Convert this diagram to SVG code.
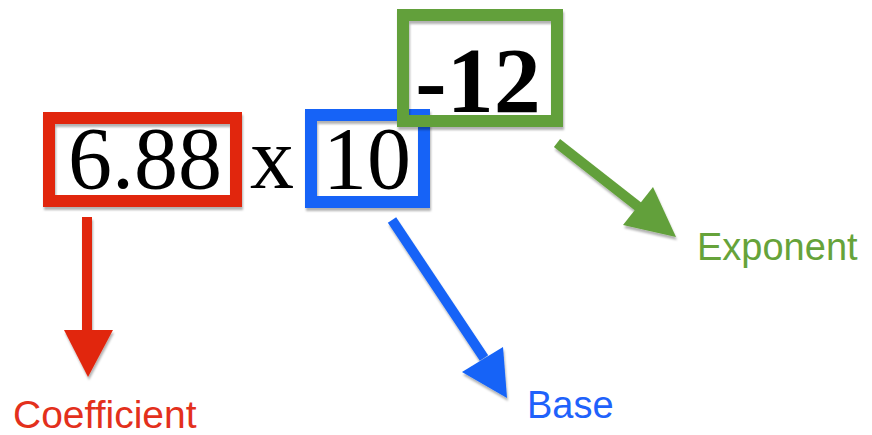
<svg xmlns="http://www.w3.org/2000/svg" width="872" height="435" viewBox="0 0 872 435">
  <style>
    .num { font-family: "Liberation Serif", "Times New Roman", serif; fill: #000; }
    .lbl { font-family: "Liberation Sans", Arial, sans-serif; font-size: 38px; }
    .box { fill: none; stroke-width: 12; }
  </style>
  <defs>
    <filter id="sh" x="-20%" y="-20%" width="140%" height="140%">
      <feDropShadow dx="1" dy="3" stdDeviation="1" flood-color="#000" flood-opacity="0.3"/>
    </filter>
  </defs>
  <rect width="872" height="435" fill="#fff"/>

  <g id="connectors" filter="url(#sh)">
    <g id="arrow-coefficient" fill="#e1280f" stroke="#e1280f">
      <line x1="87" y1="217" x2="87" y2="332" stroke-width="10"/>
      <polygon points="64,330 113,330 88,377" stroke="none"/>
    </g>
    <g id="arrow-base" fill="#1463f7" stroke="#1463f7">
      <line x1="392" y1="220" x2="484" y2="358" stroke-width="10"/>
      <polygon points="462,372 503,347 507,398" stroke="none"/>
    </g>
    <g id="arrow-exponent" fill="#62a03a" stroke="#62a03a">
      <line x1="557" y1="143" x2="640" y2="208" stroke-width="10"/>
      <polygon points="653,187 623,225 676,237" stroke="none"/>
    </g>
  </g>

  <g id="coefficient-box">
    <rect class="box" x="49" y="118" width="187" height="83" stroke="#e1280f" filter="url(#sh)"/>
    <text class="num" x="145" y="188" font-size="88" text-anchor="middle">6.88</text>
  </g>

  <g id="times">
    <text class="num" x="272" y="188" font-size="88" text-anchor="middle">x</text>
  </g>

  <g id="base-box">
    <rect class="box" x="311" y="115" width="113" height="87" stroke="#1463f7" filter="url(#sh)"/>
    <text class="num" x="367" y="188" font-size="88" text-anchor="middle">10</text>
  </g>

  <g id="exponent-box">
    <rect class="box" x="403" y="15" width="154" height="106" stroke="#62a03a" filter="url(#sh)"/>
    <text class="num" x="478" y="112" font-size="94" font-weight="bold" text-anchor="middle">-12</text>
  </g>

  <g id="label-coefficient">
    <text class="lbl" x="13" y="428" fill="#e3301c" style="font-size:39px">Coefficient</text>
  </g>
  <g id="label-base">
    <text class="lbl" x="527" y="418" fill="#1f62fb">Base</text>
  </g>
  <g id="label-exponent">
    <text class="lbl" x="697" y="260" fill="#66a33a">Exponent</text>
  </g>
</svg>
